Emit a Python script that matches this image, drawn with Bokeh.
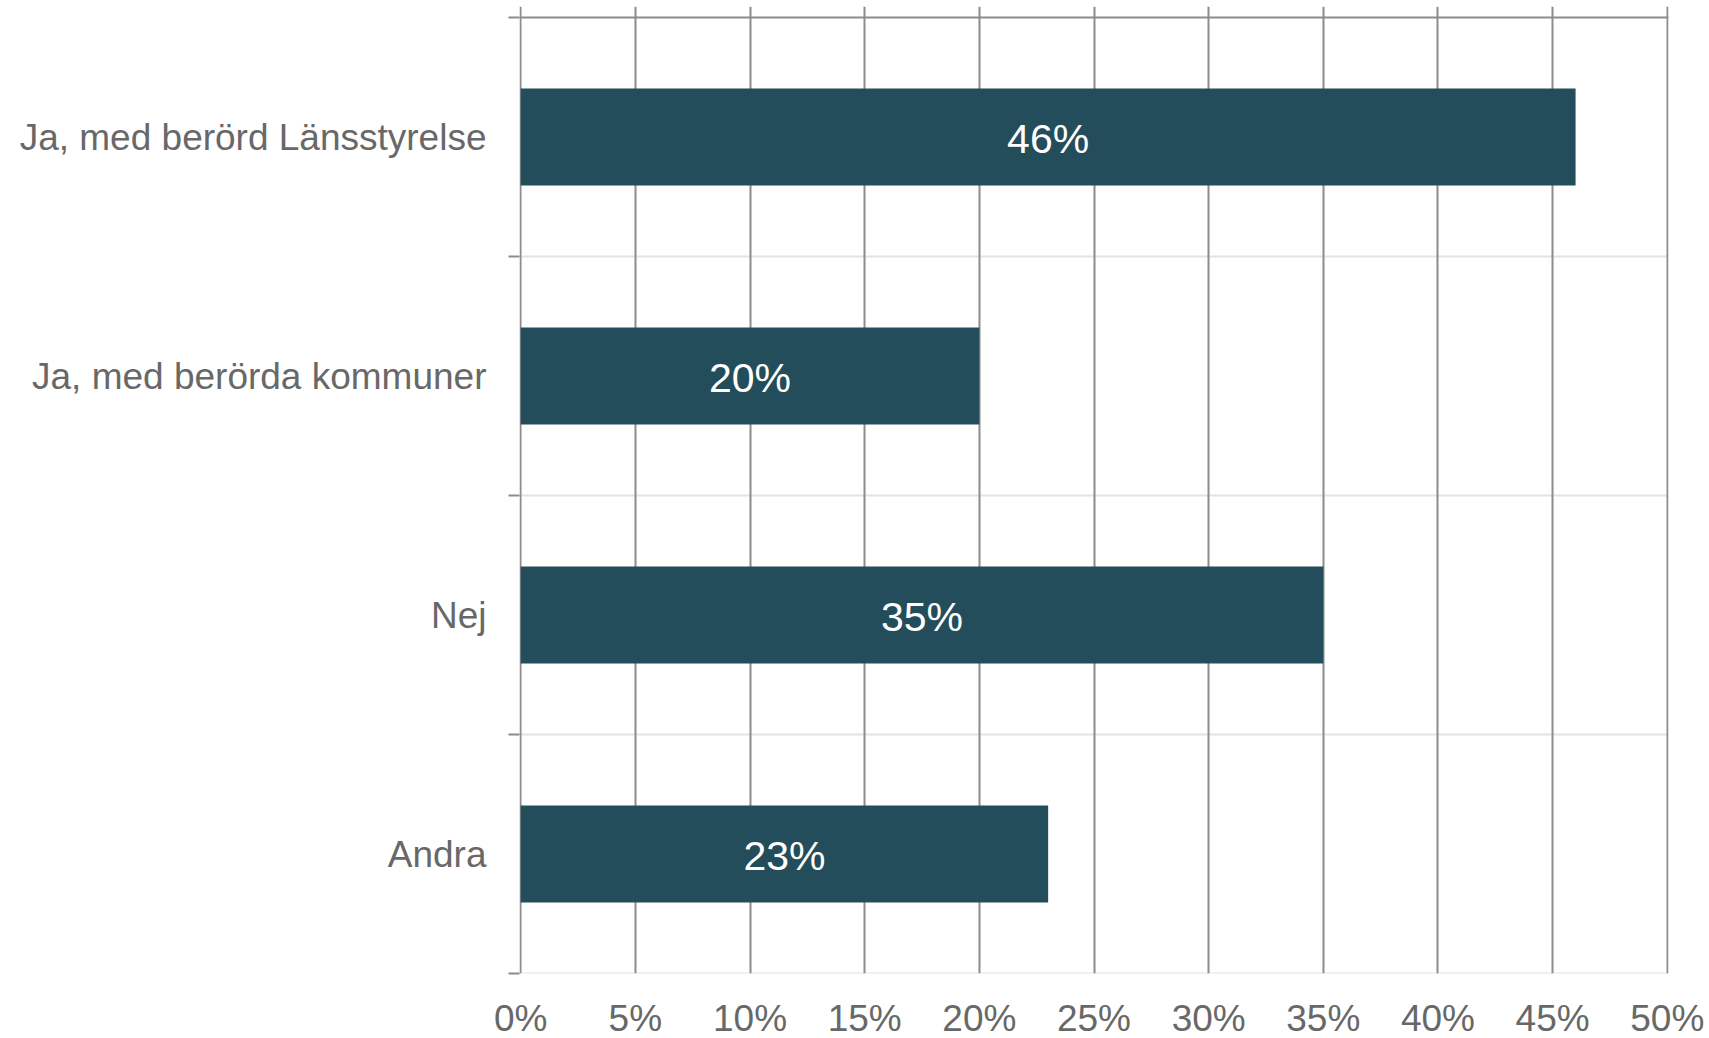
from bokeh.plotting import figure
from bokeh.models import Range1d, FixedTicker, NumeralTickFormatter, ColumnDataSource
from bokeh.core.properties import value
from bokeh.embed import file_html
from bokeh.resources import INLINE

# Data (bottom to top)
categories = ["Andra", "Nej", "Ja, med berörda kommuner", "Ja, med berörd Länsstyrelse"]
shares = [0.23, 0.35, 0.20, 0.46]
bar_labels = ["23%", "35%", "20%", "46%"]
x_ticks = [0.0, 0.05, 0.10, 0.15, 0.20, 0.25, 0.30, 0.35, 0.40, 0.45, 0.50]

FONT = "Liberation Sans"
n = len(categories)
pos = [i + 0.5 for i in range(n)]
bounds = list(range(n + 1))
XPAD = 1.2 / 2292  # a pixel of room so the edge grid lines are fully visible

src = ColumnDataSource(dict(cat=categories, v=shares, y=pos,
                            mid=[s / 2 for s in shares], lab=bar_labels))

p = figure(output_backend="svg", toolbar_location=None,
           frame_width=1149, frame_height=967,
           x_range=Range1d(-XPAD, 0.5 + XPAD), y_range=Range1d(0, n + 11 / 239),
           min_border_left=519, min_border_right=36,
           min_border_top=6, min_border_bottom=0)
p.outline_line_color = None
p.background_fill_color = "white"

# horizontal boundary lines
hcolors = ["#e3e3e3"] * n + ["#8c8c8c"]
hs = p.hspan(y=bounds, line_color=hcolors, line_width=2)
hs.level = "image"

# vertical grid lines (incl. both range ends)
vs = p.vspan(x=x_ticks, line_color="#8c8c8c", line_width=2)
vs.level = "underlay"

# bars
p.hbar(y="y", right="v", left=0, height=0.405, source=src,
       fill_color="#234d5a", line_color=None)

p.text(x="mid", y="y", text="lab", source=src, text_align="center",
       text_baseline="middle", text_color="white", y_offset=2,
       text_font=value(FONT), text_font_size="41px")

# x axis
p.xaxis.ticker = FixedTicker(ticks=x_ticks)
p.xaxis.formatter = NumeralTickFormatter(format="0%")
p.xaxis.axis_line_color = None
p.xaxis.major_tick_line_color = None
p.xaxis.minor_tick_line_color = None
p.xaxis.major_tick_out = 0
p.xaxis.major_tick_in = 0
p.xaxis.minor_tick_out = 0
p.xaxis.major_label_text_font = FONT
p.xaxis.major_label_text_font_size = "37px"
p.xaxis.major_label_text_color = "#686868"
p.xaxis.major_label_standoff = 24
p.xgrid.grid_line_color = None

# y axis: labels at centers, tick marks at boundaries
p.yaxis.ticker = FixedTicker(ticks=pos, minor_ticks=bounds)
p.yaxis.major_label_overrides = {pv: c for pv, c in zip(pos, categories)}
p.yaxis.axis_line_color = None
p.yaxis.major_tick_line_color = None
p.yaxis.minor_tick_line_color = "#8c8c8c"
p.yaxis.minor_tick_line_width = 2
p.yaxis.minor_tick_out = 11
p.yaxis.minor_tick_in = 0
p.yaxis.major_tick_out = 0
p.yaxis.major_tick_in = 0
p.yaxis.major_label_standoff = 22
p.yaxis.major_label_text_font = FONT
p.yaxis.major_label_text_font_size = "37px"
p.yaxis.major_label_text_color = "#686868"
p.ygrid.grid_line_color = None

open("out.html", "w").write(file_html(p, INLINE))
